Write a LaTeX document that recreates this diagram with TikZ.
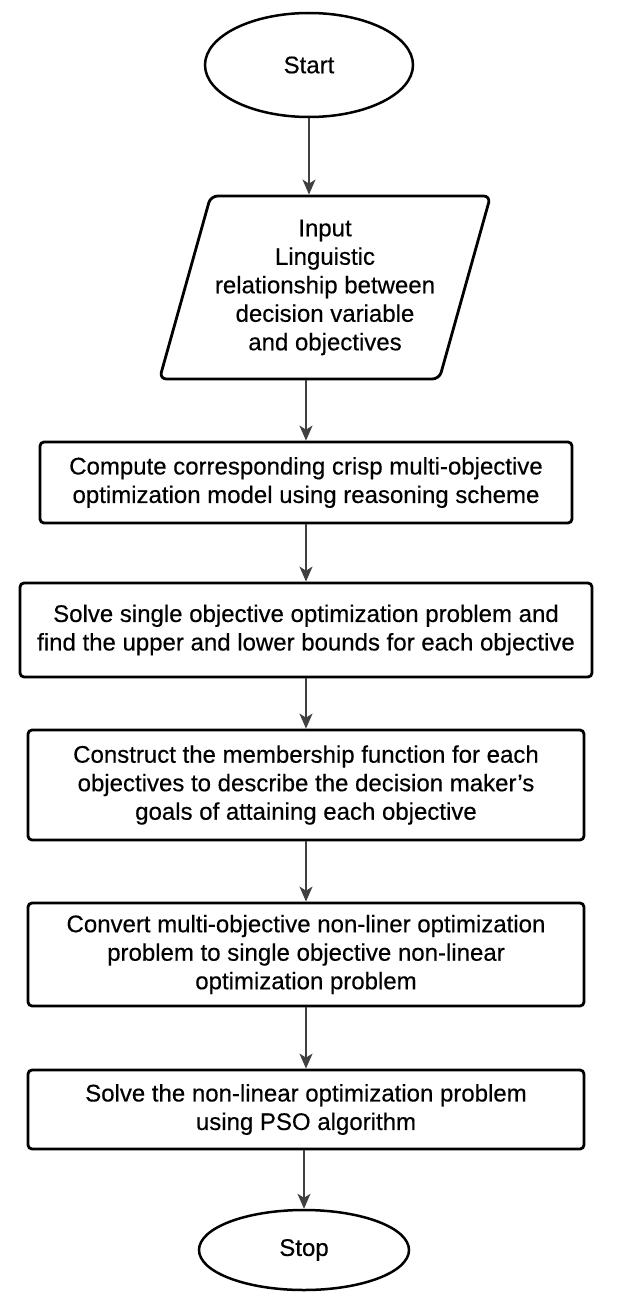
\documentclass[tikz,border=0pt]{standalone}
\usepackage{fontspec}
\setmainfont{Liberation Sans}[FakeBold=0.4]
\usetikzlibrary{shapes.geometric, arrows.meta}

\begin{document}
\begin{tikzpicture}[x=1pt, y=-1pt,
  every node/.style={font=\fontsize{24}{28.5}\selectfont, align=center},
  procbox/.style={draw, line width=2.8pt, rounded corners=4pt, inner sep=0pt},
  terminal/.style={draw, ellipse, line width=2.5pt, inner sep=0pt},
  iobox/.style={draw, trapezium, trapezium left angle=70, trapezium right angle=110,
    trapezium stretches=true, line width=2.8pt, rounded corners=7pt, inner sep=0pt},
  flow/.style={-{Stealth[length=15pt,width=13pt,inset=4pt]}, line width=1.5pt, draw=black!75, fill=black!85}
]
\useasboundingbox (0,0) rectangle (624,1292);

% terminals, input and process steps
\node[terminal, minimum width=208pt, minimum height=104pt] (start) at (309,65) {Start};
\node[iobox, minimum width=332pt, minimum height=183pt] (input) at (325,287.5)
  {Input\\Linguistic\\relationship between\\decision variable\\and objectives};
\node[procbox, minimum width=532pt, minimum height=81pt] (b1) at (306,482.5)
  {Compute corresponding crisp multi-objective\\optimization model using reasoning scheme};
\node[procbox, minimum width=572pt, minimum height=94pt] (b2) at (306,630)
  {Solve single objective optimization problem and\\find the upper and lower bounds for each objective};
\node[procbox, minimum width=556pt, minimum height=110pt] (b3) at (306,785)
  {Construct the membership function for each\\objectives to describe the decision maker's\\goals of attaining each objective};
\node[procbox, minimum width=556pt, minimum height=103pt] (b4) at (306,954.5)
  {Convert multi-objective non-liner optimization\\problem to single objective non-linear\\optimization problem};
\node[procbox, minimum width=556pt, minimum height=79pt] (b5) at (306,1109.5)
  {Solve the non-linear optimization problem\\using PSO algorithm};
\node[terminal, minimum width=210pt, minimum height=80pt] (stop) at (304,1250) {Stop};

% flow connectors
\draw[flow] (start.south) -- (start.south |- input.north);
\draw[flow] (b1.north |- input.south) -- (b1.north);
\draw[flow] (b1) -- (b2);
\draw[flow] (b2) -- (b3);
\draw[flow] (b3) -- (b4);
\draw[flow] (b4) -- (b5);
\draw[flow] (b5.south -| stop.north) -- (stop.north);
\end{tikzpicture}
\end{document}
